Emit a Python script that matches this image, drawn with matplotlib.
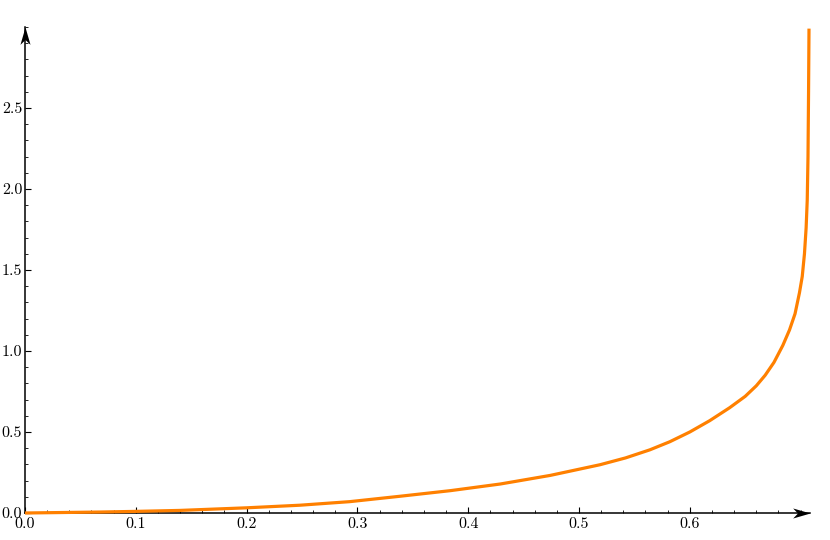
import matplotlib.pyplot as plt
from matplotlib.path import Path
from matplotlib.ticker import MultipleLocator

# values
x_vals = [0.0, 0.068, 0.1, 0.14, 0.2, 0.248, 0.293, 0.338, 0.384, 0.429,
          0.474, 0.519, 0.542, 0.564, 0.582, 0.600, 0.618, 0.636, 0.650,
          0.660, 0.668, 0.676, 0.684, 0.690, 0.695, 0.699, 0.7015, 0.7035,
          0.705, 0.706, 0.7067, 0.7072, 0.7076]
y_vals = [0.0, 0.006, 0.01, 0.016, 0.032, 0.048, 0.070, 0.103, 0.138, 0.179,
          0.232, 0.298, 0.34, 0.39, 0.44, 0.50, 0.57, 0.65, 0.72,
          0.785, 0.85, 0.93, 1.035, 1.13, 1.23, 1.36, 1.46, 1.60,
          1.76, 1.93, 2.2, 2.6, 2.99]

x_ticks = [0.0, 0.1, 0.2, 0.3, 0.4, 0.5, 0.6]
y_ticks = [0.0, 0.5, 1.0, 1.5, 2.0, 2.5]

plt.rcParams['font.family'] = ['cmr10', 'DejaVu Serif']
plt.rcParams['axes.formatter.use_mathtext'] = True


def arrow_head(horizontal):
    # pointed head with a notched back, tip at the origin
    pts = [(0, 0), (-1, 0.29), (-0.72, 0), (-1, -0.29), (0, 0)]
    if not horizontal:
        pts = [(-y, x) for x, y in pts]
    codes = [Path.MOVETO] + [Path.LINETO] * 3 + [Path.CLOSEPOLY]
    return Path(pts, codes)


def main():
    fig = plt.figure(figsize=(8.3, 5.4), dpi=100)
    ax = fig.add_axes([25 / 830, 27 / 540, 785 / 830, 486 / 540])

    ax.plot(x_vals, y_vals, color="#ff8000", lw=2.3, solid_capstyle="butt",
            solid_joinstyle="round", clip_on=False, zorder=3)

    ax.set_xlim(0, 0.7085)
    ax.set_ylim(0, 3.0)

    ax.spines["top"].set_visible(False)
    ax.spines["right"].set_visible(False)
    for s in ("left", "bottom"):
        ax.spines[s].set_linewidth(1.1)

    ax.set_xticks(x_ticks)
    ax.set_yticks(y_ticks)
    ax.set_xticklabels(["%.1f" % v for v in x_ticks])
    ax.set_yticklabels(["%.1f" % v for v in y_ticks])
    ax.xaxis.set_minor_locator(MultipleLocator(0.02))
    ax.yaxis.set_minor_locator(MultipleLocator(0.1))
    ax.tick_params(which="major", direction="in", length=4.5, width=0.8,
                   labelsize=11.5)
    ax.tick_params(which="minor", direction="in", length=2.5, width=0.6)
    ax.tick_params(axis="x", pad=3)
    ax.tick_params(axis="y", pad=2)

    # arrow heads at the ends of the axes
    ax.plot([1.0], [0.0], marker=arrow_head(True), ms=25, color="k", mew=0,
            transform=ax.transAxes, clip_on=False, zorder=4)
    ax.plot([0.0], [1.0], marker=arrow_head(False), ms=25, color="k", mew=0,
            transform=ax.transAxes, clip_on=False, zorder=4)

    fig.savefig("out.png", dpi=100)


if __name__ == "__main__":

    main()
